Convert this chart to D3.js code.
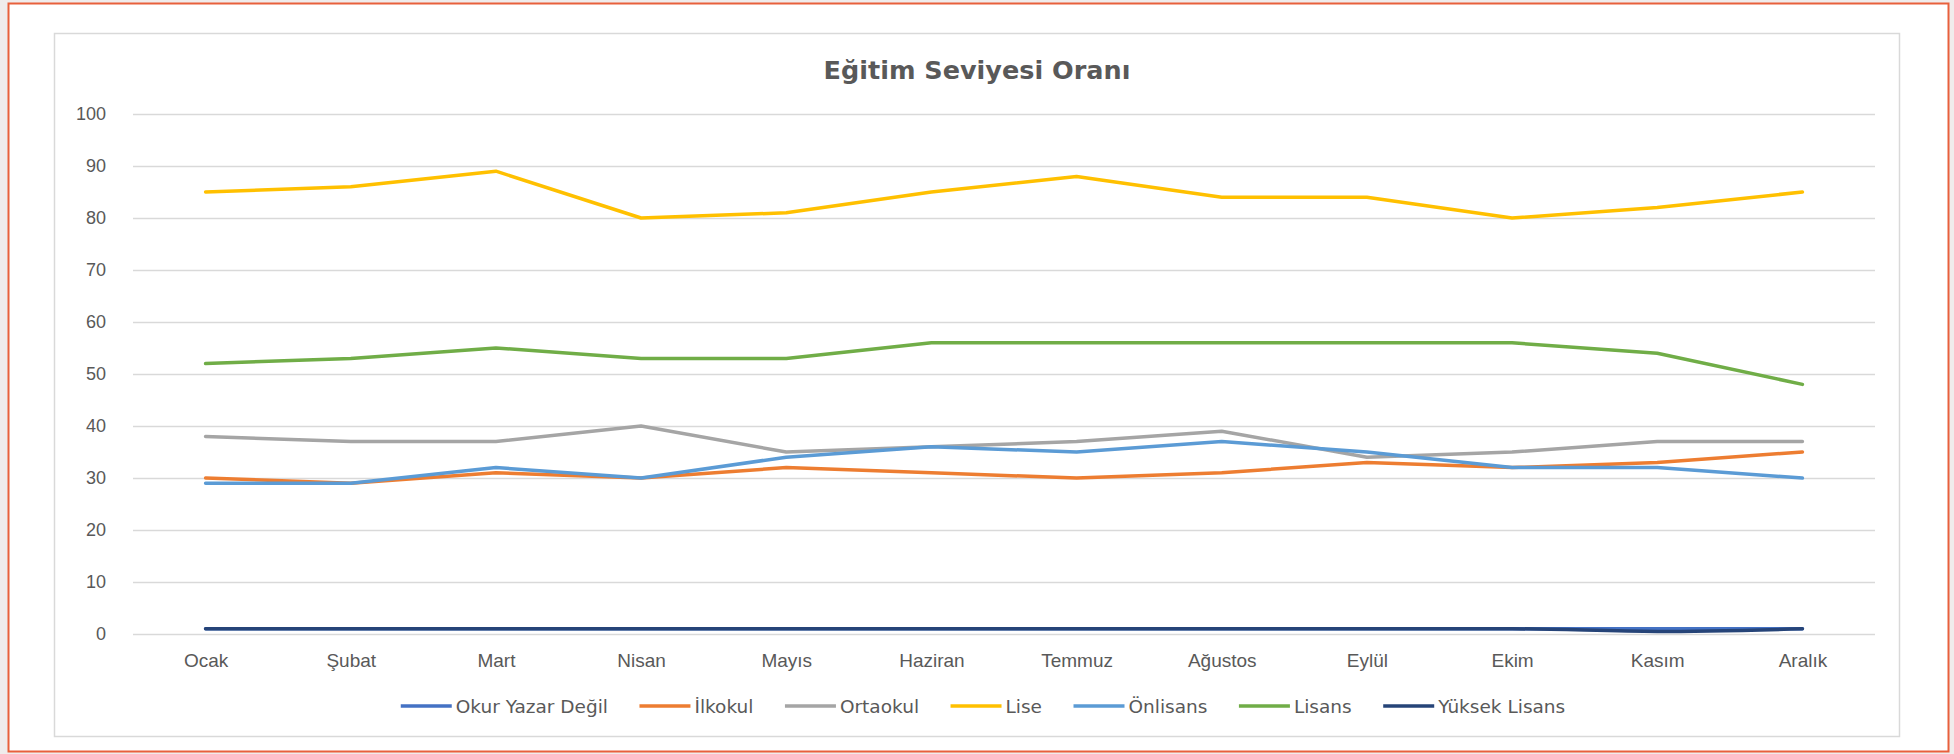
<!DOCTYPE html>
<html>
<head>
<meta charset="utf-8">
<script src="https://cdn.jsdelivr.net/npm/d3@7"></script>
<style>
    body { margin: 0; background: #f0ecec; }
    svg { display: block; font-family: "DejaVu Sans", sans-serif; }
</style>
</head>
<body>
<div id="svganchor"></div>
<script>
let width = 1954;
let height = 754;
let margin = ({top: 114, right: 79, bottom: 120, left: 133});

// Months on the X axis
let months = ["Ocak", "Şubat", "Mart", "Nisan", "Mayıs", "Haziran", "Temmuz", "Ağustos", "Eylül", "Ekim", "Kasım", "Aralık"];

// Y axis ticks
let yTicks = [0, 10, 20, 30, 40, 50, 60, 70, 80, 90, 100];

// Series names (legend order = draw order)
let seriesNames = ["Okur Yazar Değil", "İlkokul", "Ortaokul", "Lise", "Önlisans", "Lisans", "Yüksek Lisans"];
let seriesColors = ["#4472c4", "#ed7d31", "#a5a5a5", "#ffc000", "#5b9bd5", "#70ad47", "#264478"];

// Values
let okurYazarDegil = [1, 1, 1, 1, 1, 1, 1, 1, 1, 1, 1, 1];
let ilkokul = [30, 29, 31, 30, 32, 31, 30, 31, 33, 32, 33, 35];
let ortaokul = [38, 37, 37, 40, 35, 36, 37, 39, 34, 35, 37, 37];
let lise = [85, 86, 89, 80, 81, 85, 88, 84, 84, 80, 82, 85];
let onlisans = [29, 29, 32, 30, 34, 36, 35, 37, 35, 32, 32, 30];
let lisans = [52, 53, 55, 53, 53, 56, 56, 56, 56, 56, 54, 48];
let yuksekLisans = [1, 1, 1, 1, 1, 1, 1, 1, 1, 1, 0.5, 1];

let seriesValues = [okurYazarDegil, ilkokul, ortaokul, lise, onlisans, lisans, yuksekLisans];

// The last series is drawn smoothed in the original
let smoothed = ["Yüksek Lisans"];

let textColor = "#595959";
let gridColor = "#d9d9d9";

let series = seriesNames.map((name, i) => ({
    name: name,
    color: seriesColors[i],
    values: seriesValues[i]
}));

let svg = d3.select("#svganchor")
    .append("svg")
    .attr("width", width)
    .attr("height", height);

// Orange outer frame
svg.append("rect")
    .attr("x", 8.5)
    .attr("y", 3.5)
    .attr("width", 1940)
    .attr("height", 748)
    .attr("fill", "#ffffff")
    .attr("stroke", "#e8603c")
    .attr("stroke-width", 2);

// Chart area border
svg.append("rect")
    .attr("x", 54.5)
    .attr("y", 33.5)
    .attr("width", 1845)
    .attr("height", 703)
    .attr("fill", "#ffffff")
    .attr("stroke", gridColor)
    .attr("stroke-width", 1.5);

let xScale = d3.scalePoint()
    .domain(months)
    .range([margin.left, width - margin.right])
    .padding(0.5);

let yScale = d3.scaleLinear()
    .domain([0, 100])
    .range([634, margin.top]);

// Gridlines + Y labels
let yAxis = d3.axisLeft(yScale)
    .tickValues(yTicks)
    .tickSize(-(width - margin.right - margin.left))
    .tickPadding(27);

let gy = svg.append("g")
    .attr("transform", "translate(" + margin.left + ",0)")
    .call(yAxis);

gy.select(".domain").remove();
gy.selectAll(".tick line")
    .attr("stroke", gridColor)
    .attr("stroke-width", 1.5);
gy.selectAll(".tick text")
    .attr("fill", textColor)
    .style("font-size", "18px");

// X labels (no axis line)
let xAxis = d3.axisBottom(xScale)
    .tickSize(0)
    .tickPadding(20);

let gx = svg.append("g")
    .attr("transform", "translate(0," + yScale(0) + ")")
    .call(xAxis);

gx.select(".domain").remove();
gx.selectAll(".tick text")
    .attr("fill", textColor)
    .style("font-size", "19px");

// Lines
series.forEach(s => {
    let line = d3.line()
        .x((d, i) => xScale(months[i]))
        .y(d => yScale(d))
        .curve(smoothed.includes(s.name) ? d3.curveMonotoneX : d3.curveLinear);

    svg.append("path")
        .datum(s.values)
        .attr("fill", "none")
        .attr("stroke", s.color)
        .attr("stroke-width", 3.5)
        .attr("stroke-linejoin", "round")
        .attr("stroke-linecap", "round")
        .attr("d", line);
});

// Title
svg.append("text")
    .attr("x", 977)
    .attr("y", 79)
    .attr("text-anchor", "middle")
    .attr("fill", textColor)
    .style("font-size", "25.5px")
    .style("font-weight", "bold")
    .text("Eğitim Seviyesi Oranı");

// Legend, laid out from measured text widths and centred
let legend = svg.append("g");
let swatch = 51, swatchGap = 4, itemGap = 31.5;
let xPos = 0;
series.forEach(s => {
    let item = legend.append("g").attr("transform", "translate(" + xPos + ",0)");
    item.append("line")
        .attr("x1", 0).attr("x2", swatch)
        .attr("y1", 0).attr("y2", 0)
        .attr("stroke", s.color)
        .attr("stroke-width", 3.5);
    let t = item.append("text")
        .attr("x", swatch + swatchGap)
        .attr("y", 6.5)
        .attr("fill", textColor)
        .style("font-size", "18.5px")
        .text(s.name);
    xPos += swatch + swatchGap + t.node().getComputedTextLength() + itemGap;
});
let legendWidth = xPos - itemGap;
legend.attr("transform", "translate(" + (983 - legendWidth / 2) + ",706)");
</script>
</body>
</html>
